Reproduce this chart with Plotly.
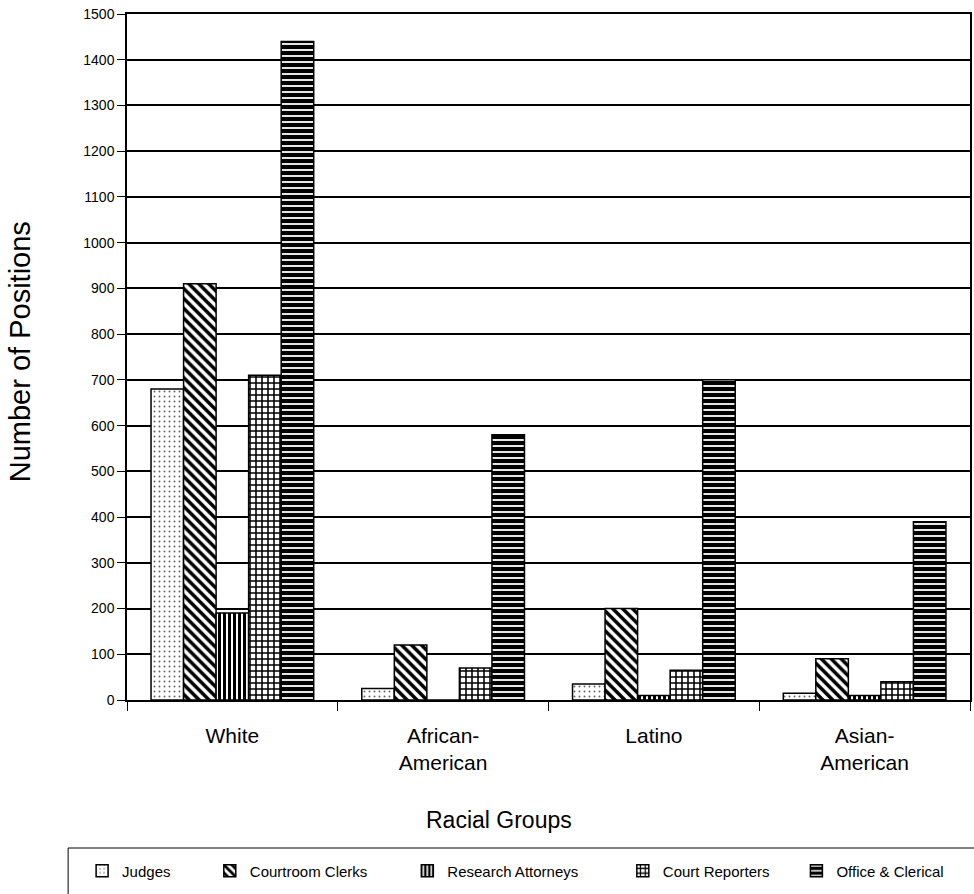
import plotly.graph_objects as go

# Racial groups on the category axis
groups = ["White", "African-<br>American", "Latino", "Asian-<br>American"]

# Number of positions per job category
judges = [680, 25, 35, 15]
courtroom_clerks = [910, 120, 200, 90]
research_attorneys = [190, 0, 10, 10]
court_reporters = [710, 70, 65, 40]
office_clerical = [1440, 580, 700, 390]

series_names = ["Judges", "Courtroom Clerks", "Research Attorneys",
                "Court Reporters", "Office & Clerical"]
series_values = [judges, courtroom_clerks, research_attorneys,
                 court_reporters, office_clerical]

y_ticks = list(range(0, 1501, 100))

FONT = "Liberation Sans, Arial, sans-serif"

# Monochrome fill patterns for each job category
patterns = [
    dict(shape=".", size=5, solidity=0.12, fgcolor="#666666"),
    dict(shape="\\", size=7, solidity=0.5, fgcolor="black"),
    dict(shape="|", size=5, solidity=0.6, fgcolor="black"),
    dict(shape="+", size=6, solidity=0.45, fgcolor="black"),
    dict(shape="-", size=6, solidity=0.7, fgcolor="black"),
]

# page geometry (px) used to convert to paper coordinates
W, H = 974, 894
ML, MR, MT, MB = 127, 2, 14, 194
PW, PH = W - ML - MR, H - MT - MB


def px_x(x):
    return (x - ML) / PW


def px_y(y):
    return (H - MB - y) / PH


fig = go.Figure()
legend_ids = ["legend", "legend2", "legend3", "legend4", "legend5"]
for name, vals, pat, lid in zip(series_names, series_values, patterns, legend_ids):
    fig.add_trace(go.Bar(
        name=name,
        x=groups,
        y=vals,
        legend=lid,
        marker=dict(
            color="white",
            line=dict(color="black", width=1.5),
            pattern=dict(fillmode="replace", bgcolor="white", **pat),
        ),
    ))

# one single-entry legend per series, spaced along the bottom strip
legend_left_px = [82, 210, 408, 624, 798]
layout_legends = {}
for lid, lx in zip(legend_ids, legend_left_px):
    layout_legends[lid] = dict(
        x=px_x(lx), xanchor="left",
        y=px_y(871), yanchor="middle",
        orientation="h",
        bgcolor="rgba(0,0,0,0)",
        borderwidth=0,
        font=dict(family=FONT, size=15, color="black"),
    )

fig.update_layout(
    width=W, height=H,
    margin=dict(l=ML, r=MR, t=MT, b=MB),
    paper_bgcolor="white",
    plot_bgcolor="white",
    barmode="group",
    bargap=0.228,
    bargroupgap=0,
    showlegend=True,
    font=dict(family=FONT, color="black"),
    **layout_legends,
)

fig.update_xaxes(
    type="category",
    showline=True, linecolor="black", linewidth=1.5, mirror=True,
    ticks="outside", tickson="boundaries", ticklen=9, tickcolor="black",
    tickwidth=1,
    tickfont=dict(family=FONT, size=21, color="black"),
    ticklabelstandoff=16,
    showgrid=False,
)

fig.update_yaxes(
    range=[0, 1500],
    tickvals=y_ticks,
    showline=True, linecolor="black", linewidth=1.5, mirror=True,
    ticks="outside", ticklen=8, tickcolor="black", tickwidth=1,
    tickfont=dict(family=FONT, size=14, color="black"),
    showgrid=True, gridcolor="black", gridwidth=1.5,
    zeroline=False,
)

# axis titles
fig.add_annotation(
    text="Number of Positions", textangle=-90,
    x=px_x(20), y=px_y(352), xref="paper", yref="paper",
    xanchor="center", yanchor="middle",
    showarrow=False, font=dict(family=FONT, size=29, color="black"),
)
fig.add_annotation(
    text="Racial Groups",
    x=px_x(500), y=px_y(820), xref="paper", yref="paper",
    xanchor="center", yanchor="middle",
    showarrow=False, font=dict(family=FONT, size=23, color="black"),
)

# legend frame
fig.add_shape(
    type="rect", xref="paper", yref="paper",
    x0=px_x(68), x1=px_x(1010), y0=px_y(848), y1=px_y(930),
    line=dict(color="black", width=1), fillcolor="rgba(0,0,0,0)",
)

fig.write_html("out.html")
